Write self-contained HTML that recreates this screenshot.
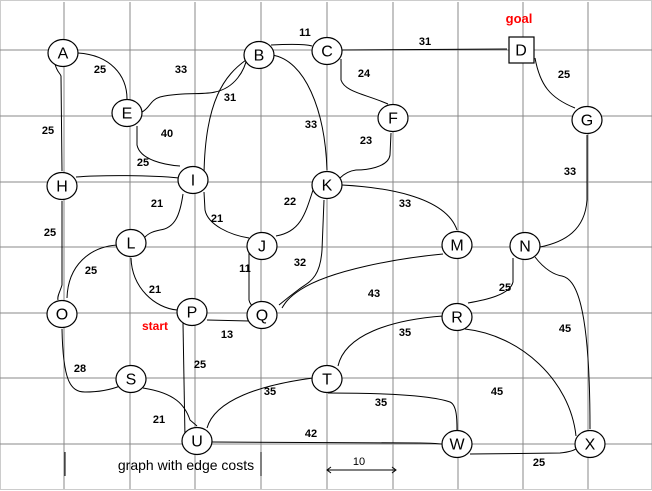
<!DOCTYPE html>
<html><head><meta charset="utf-8"><style>
body{margin:0;background:#fff;width:652px;height:491px;overflow:hidden}
svg{display:block}
.n{fill:#fff;stroke:#000;stroke-width:1.2}
.nl{font-family:"Liberation Sans",sans-serif;font-size:16px;text-anchor:middle;dominant-baseline:central}
.e{fill:none;stroke:#000;stroke-width:1}
.c{font-family:"Liberation Sans",sans-serif;font-size:11px;font-weight:bold;text-anchor:middle;dominant-baseline:central}
.g{stroke:#888;stroke-width:1}
</style></head><body>
<svg id="s" width="652" height="491">
<rect x="0.5" y="0.5" width="651" height="489" fill="none" stroke="#ccc"/>
<g id="grid"></g>
<g id="edges"></g>
<g id="labels"></g>
<g id="nodes"></g>
<text x="519" y="23" fill="red" font-family="Liberation Sans,sans-serif" font-size="13" font-weight="bold" text-anchor="middle">goal</text>
<text x="155" y="330" fill="red" font-family="Liberation Sans,sans-serif" font-size="12" font-weight="bold" text-anchor="middle">start</text>
<line x1="65" y1="452" x2="65" y2="476" stroke="#000"/>
<line x1="261" y1="452" x2="261" y2="476" stroke="#000"/>
<text x="186" y="470" font-family="Liberation Sans,sans-serif" font-size="14" text-anchor="middle">graph with edge costs</text>
<g>
<line x1="327" y1="470" x2="396" y2="470" stroke="#000"/>
<path d="M331,467 L327,470 L331,473 M392,467 L396,470 L392,473" fill="none" stroke="#000"/>
<text x="359" y="465" font-family="Liberation Sans,sans-serif" font-size="11" text-anchor="middle">10</text>
</g>
</svg>
<script>
const NS="http://www.w3.org/2000/svg";
const gridX=[64,130,195,261,327,393,458,523,588];
const gridY=[50,116,182,247,313,378,444];
const nodeNames=["A","B","C","D","E","F","G","H","I","J","K","L","M","N","O","P","Q","R","S","T","U","W","X"];
const nodeX=[63,259,327,521,127,393,587,62,193,262,327,131,457,525,62,192,262,457,131,327,197,457,590];
const nodeY=[53,55,51,50,113,118,120,186,180,246,185,243,245,246,314,312,315,317,379,379,441,444,444];
const edgePaths=[
"M78,53 C110,55 127,75 127,99",
"M55,64 C57,72 60,73 61,76 L62,171",
"M142,112 C150,108 150,100 160,97 C180,92 205,95 215,92 C235,88 245,70 247,57",
"M137,126 L137,145 C140,160 165,165 180,166",
"M246,60 C225,75 205,100 204,175",
"M272,55 C305,60 325,110 327,170",
"M271,45 C290,44 305,44 312,46",
"M341,50 L507,49",
"M341,59 L341,80 C345,92 365,94 388,104",
"M535,58 C540,85 550,98 575,108",
"M391,133 L390,155 C388,168 365,170 356,170 C348,171 343,175 340,178",
"M587,135 L587,200 C585,230 565,242 540,247",
"M76,177 C100,175 150,175 179,178",
"M62,201 L62,285 C60,292 57,296 58,300",
"M183,194 C180,215 175,228 160,230 C150,232 147,235 145,237",
"M204,192 L205,210 C208,225 230,235 249,238",
"M313,190 C305,215 300,232 276,236",
"M342,185 C380,187 445,195 457,230",
"M324,200 L322,250 C320,280 308,282 298,290 C290,296 285,300 279,305",
"M249,252 L249,300 C250,305 253,306 255,308",
"M117,245 C90,247 68,265 67,298",
"M131,258 C132,288 155,308 177,310",
"M443,254 C400,258 330,270 300,290 C288,298 285,303 282,308",
"M513,258 L513,282 C510,295 485,300 468,303",
"M535,257 C545,270 555,275 562,276 C575,279 590,300 590,429",
"M62,329 C63,380 70,392 85,392 C100,392 110,390 120,386",
"M207,320 L249,321",
"M183,323 L185,438",
"M143,388 C175,393 185,405 190,420 L197,426",
"M313,378 C260,385 215,400 207,428",
"M328,393 C380,393 430,395 450,402 C457,405 457,420 457,430",
"M443,316 C390,320 345,335 338,366",
"M465,329 C520,335 570,380 576,436",
"M212,442 L420,443 C435,443 440,444 442,444",
"M470,454 L560,453 C570,452 575,450 577,448"
];
const costValues=["11","25","33","31","24","25","31","25","40","33","23","25","33","21","21","22","33","25","11","32","25","21","43","25","45","35","13","25","28","35","35","45","21","42","25"];
const costX=[305,100,181,425,364,564,230,48,167,311,366,143,570,157,217,290,405,50,245,300,91,155,374,505,565,405,227,200,80,270,381,497,159,311,539];
const costY=[33,70,70,42,74,75,98,131,134,125,141,163,172,204,219,202,204,233,269,263,271,290,294,288,329,333,335,365,369,392,403,392,420,434,463];

const grid=document.getElementById('grid');
gridX.forEach((x,i)=>{const l=document.createElementNS(NS,'line');
l.setAttribute('x1',x);l.setAttribute('x2',x);l.setAttribute('y1',2);l.setAttribute('y2',489);l.setAttribute('class','g');


grid.appendChild(l);});
gridY.forEach((y,i)=>{const l=document.createElementNS(NS,'line');
l.setAttribute('y1',y);l.setAttribute('y2',y);l.setAttribute('x1',0);l.setAttribute('x2',652);l.setAttribute('class','g');


grid.appendChild(l);});
const eg=document.getElementById('edges');
edgePaths.forEach(d=>{const p=document.createElementNS(NS,'path');p.setAttribute('d',d);p.setAttribute('class','e');


eg.appendChild(p);});
const lg=document.getElementById('labels');
costValues.forEach((v,i)=>{const t=document.createElementNS(NS,'text');t.setAttribute('x',costX[i]);t.setAttribute('y',costY[i]);t.setAttribute('class','c');t.textContent=v;


lg.appendChild(t);});
const ng=document.getElementById('nodes');
nodeNames.forEach((n,i)=>{const g=document.createElementNS(NS,'g');


let s;
if(n==='D'){s=document.createElementNS(NS,'rect');s.setAttribute('x',nodeX[i]-12);s.setAttribute('y',nodeY[i]-13);s.setAttribute('width',25);s.setAttribute('height',26);}
else{s=document.createElementNS(NS,'ellipse');s.setAttribute('cx',nodeX[i]);s.setAttribute('cy',nodeY[i]);s.setAttribute('rx',15);s.setAttribute('ry',13.5);}
s.setAttribute('class','n');g.appendChild(s);
const t=document.createElementNS(NS,'text');t.setAttribute('x',nodeX[i]);t.setAttribute('y',nodeY[i]+1);t.setAttribute('class','nl');t.textContent=n;g.appendChild(t);
ng.appendChild(g);});
</script>
</body></html>
